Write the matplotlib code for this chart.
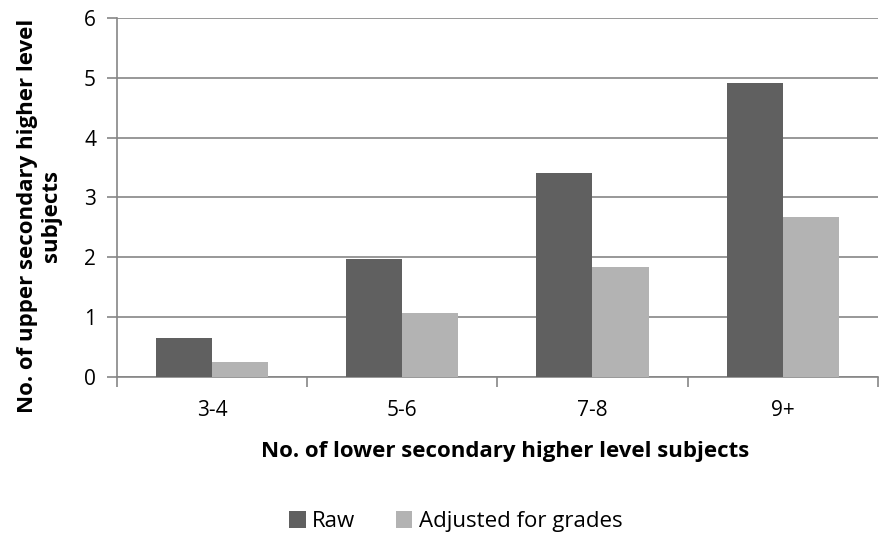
import numpy as np
import matplotlib.pyplot as plt

categories = ["3-4", "5-6", "7-8", "9+"]
raw = [0.64, 1.97, 3.41, 4.92]
adjusted = [0.25, 1.06, 1.83, 2.68]

plt.rcParams["font.family"] = ["Open Sans", "DejaVu Sans"]

fig = plt.figure(figsize=(8.92, 5.38), dpi=100)
ax = fig.add_axes([0.131, 0.300, 0.853, 0.666])

x = np.arange(len(categories))
w = 0.295
ax.bar(x - w / 2, raw, w, color="#606060", label="Raw", zorder=3)
ax.bar(x + w / 2, adjusted, w, color="#b3b3b3", label="Adjusted for grades", zorder=3)

ax.set_xlim(-0.5, len(categories) - 0.5)
ax.set_ylim(0, 6)
ax.set_yticks(range(0, 7))
ax.yaxis.grid(True, color="#868686", linewidth=1.2, zorder=0)

ax.set_xticks(x)
ax.set_xticklabels(categories, fontsize=15)
ax.set_xticks(np.arange(-0.5, len(categories)), minor=True)
ax.tick_params(axis="x", which="major", length=0, pad=17)
ax.tick_params(axis="x", which="minor", length=7, width=1.2, color="#868686")
ax.tick_params(axis="y", length=7, width=1.2, color="#868686", labelsize=15, pad=8)

for s in ["top", "right"]:
    ax.spines[s].set_visible(False)
for s in ["left", "bottom"]:
    ax.spines[s].set_color("#868686")
    ax.spines[s].set_linewidth(1.2)

ax.set_xlabel("No. of lower secondary higher level subjects", fontsize=16,
              fontweight="bold")
ax.xaxis.set_label_coords(0.51, -0.18)
ax.set_ylabel("No. of upper secondary higher level\nsubjects", fontsize=16,
              fontweight="bold", linespacing=1.22)
ax.yaxis.set_label_coords(-0.072, 0.448)

fig.legend(loc="center", bbox_to_anchor=(0.511, 0.03), ncol=2, frameon=False,
           fontsize=16, handlelength=0.75, handleheight=0.75, handletextpad=0.3,
           columnspacing=1.8)

plt.savefig("out.png", dpi=100)
